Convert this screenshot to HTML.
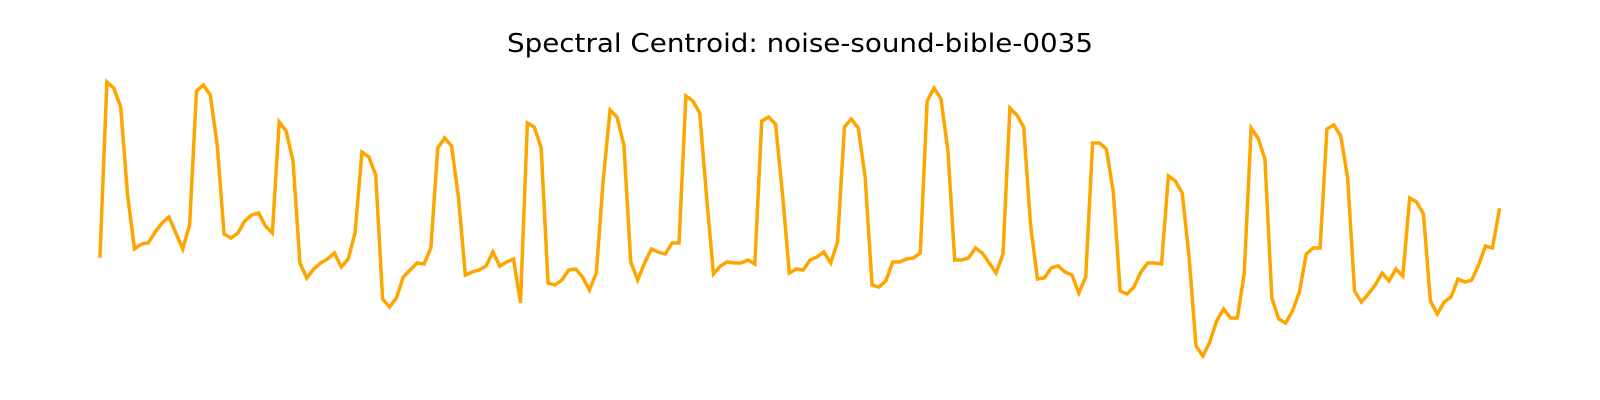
<!DOCTYPE html>
<html>
<head>
<meta charset="utf-8">
<style>
  html, body { margin: 0; padding: 0; background: #ffffff; }
  svg { display: block; }
</style>
</head>
<body>
<svg id="chart" width="1600" height="400" viewBox="0 0 1600 400" xmlns="http://www.w3.org/2000/svg">
  <rect x="0" y="0" width="1600" height="400" fill="#ffffff"/>
  <text x="800" y="52" text-anchor="middle" textLength="586" lengthAdjust="spacingAndGlyphs" font-family="DejaVu Sans, Liberation Sans, sans-serif" font-size="26" fill="#000000">Spectral Centroid: noise-sound-bible-0035</text>
  <g id="plot"></g>
</svg>
<script>
// Spectral centroid per frame (arbitrary units)
const frameIndex = [];
const centroidValues = [
  144,318,312,293,205,151,156,157,168,177,
  183,167,151,175,309,315,305,255,166,162,
  167,179,185,187,174,167,278,269,239,137,
  122,131,137,141,147,133,141,167,248,243,
  225,101,93,102,123,130,137,136,152,252,
  262,254,203,125,128,130,134,148,134,138,
  141,97,277,273,252,117,115,120,130,131,
  123,110,127,220,290,283,255,138,120,137,
  151,148,146,157,157,304,299,287,203,126,
  134,138,137,137,140,136,279,283,276,207,
  127,131,130,140,143,148,137,158,273,281,
  272,223,115,113,119,138,138,141,142,147,
  299,312,301,250,140,140,142,152,147,137,
  127,146,292,285,273,175,121,122,132,134,
  128,125,107,123,257,257,251,208,109,106,
  113,128,137,137,136,224,219,207,143,54,
  44,58,79,91,82,82,127,272,262,241,
  102,81,77,89,108,146,152,152,271,275,
  264,222,109,98,106,115,127,119,131,124,
  202,198,186,99,86,98,103,121,118,120,
  135,154,152,190
];
for (let i = 0; i < centroidValues.length; i++) frameIndex.push(i);

const xRange = [100, 1499.3];
const yDomain = [0, 400];
const yRange = [400, 0];

function xScale(i) {
  const n = frameIndex.length - 1;
  return xRange[0] + (i / n) * (xRange[1] - xRange[0]);
}
function yScale(v) {
  return yRange[0] + (v - yDomain[0]) / (yDomain[1] - yDomain[0]) * (yRange[1] - yRange[0]);
}

const plot = document.getElementById('plot');
const pts = frameIndex.map((f, k) => xScale(f).toFixed(2) + ',' + yScale(centroidValues[k]).toFixed(2)).join(' ');
const line = document.createElementNS('http://www.w3.org/2000/svg', 'polyline');
line.setAttribute('points', pts);
line.setAttribute('fill', 'none');
line.setAttribute('stroke', '#ffa500');
line.setAttribute('stroke-width', '3.5');
line.setAttribute('stroke-linejoin', 'miter');
line.setAttribute('stroke-linecap', 'square');


plot.appendChild(line);
</script>
</body>
</html>
